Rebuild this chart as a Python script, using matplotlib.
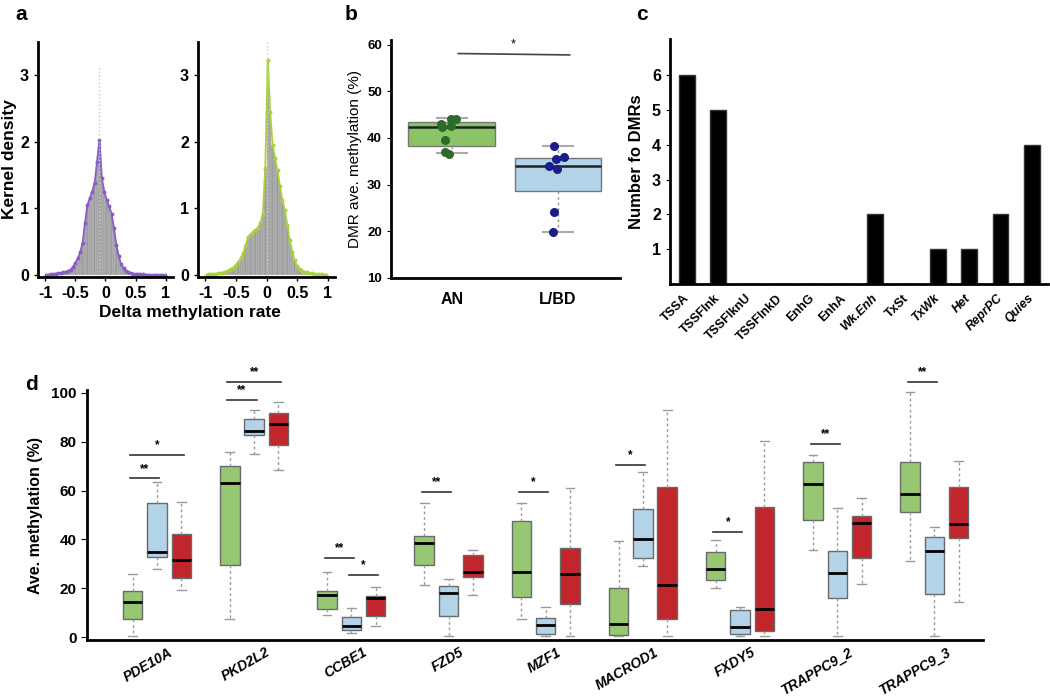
import numpy as np
import matplotlib
matplotlib.use('Agg')
import matplotlib.pyplot as plt

plt.rcParams['font.family'] = ['Liberation Sans', 'DejaVu Sans']

# ---- panel a: delta methylation histograms (bins of 0.04 from -1 to 1)
bin_edges = np.linspace(-1, 1, 51)
dens_left = [0.0, 0.005, 0.01, 0.015, 0.02, 0.025, 0.03, 0.04, 0.05, 0.06,
             0.08, 0.12, 0.18, 0.25, 0.34, 0.48, 0.78, 1.05, 1.15, 1.25,
             1.38, 1.70, 2.03, 1.45, 1.25, 1.12, 1.03, 0.92, 0.70, 0.45,
             0.28, 0.16, 0.10, 0.06, 0.04, 0.03, 0.02, 0.015, 0.01, 0.01,
             0.01, 0.005, 0.005, 0.0, 0.0, 0.0, 0.0, 0.0, 0.0, 0.0]
dens_right = [0.005, 0.01, 0.01, 0.015, 0.02, 0.025, 0.03, 0.04, 0.05, 0.07,
              0.09, 0.11, 0.15, 0.19, 0.25, 0.33, 0.45, 0.57, 0.61, 0.64,
              0.67, 0.71, 0.78, 0.92, 1.60, 3.22, 2.45, 1.95, 1.75, 1.57,
              1.33, 1.12, 0.97, 0.75, 0.52, 0.35, 0.22, 0.13, 0.09, 0.06,
              0.05, 0.04, 0.03, 0.025, 0.02, 0.015, 0.01, 0.01, 0.005, 0.005]
peak_left = -0.10
peak_right = 0.0

# ---- panel b: DMR average methylation
b_groups = ['AN', 'L/BD']
b_an_points = [44.1, 44.1, 42.9, 42.3, 42.5, 39.6, 36.9, 36.6]
b_lbd_points = [38.3, 35.9, 35.4, 34.0, 33.3, 24.2, 19.8]
b_an_jitter = [-0.01, 0.04, -0.10, -0.09, -0.01, -0.07, -0.07, -0.03]
b_lbd_jitter = [-0.04, 0.06, -0.02, -0.08, -0.01, -0.04, -0.05]
# whislo, q1, med, q3, whishi
b_stats = [[36.8, 38.3, 42.3, 43.5, 44.2],
           [19.8, 28.7, 34.0, 35.7, 38.3]]
b_sig_y = 58.1

# ---- panel c: chromatin states
states = ['TSSA', 'TSSFlnk', 'TSSFlknU', 'TSSFlnkD', 'EnhG', 'EnhA', 'Wk.Enh',
          'TxSt', 'TxWk', 'Het', 'ReprPC', 'Quies']
state_counts = [6, 5, 0, 0, 0, 0, 2, 0, 1, 1, 2, 4]
italic_states = ['Wk.Enh', 'TxWk', 'Het', 'ReprPC', 'Quies']

# ---- panel d: per gene methylation (whislo, q1, med, q3, whishi)
genes = ['PDE10A', 'PKD2L2', 'CCBE1', 'FZD5', 'MZF1', 'MACROD1', 'FXDY5',
         'TRAPPC9_2', 'TRAPPC9_3']
green_stats = [[0.3, 7.4, 14.4, 18.8, 25.7],
               [7.4, 29.7, 63.3, 70.1, 75.8],
               [9.2, 11.4, 17.1, 19.0, 26.8],
               [21.2, 29.6, 38.5, 41.4, 55.0],
               [7.4, 16.4, 26.8, 47.7, 55.0],
               [0.5, 1.0, 5.3, 20.3, 39.2],
               [19.9, 23.2, 27.9, 34.7, 39.6],
               [35.8, 47.8, 62.9, 71.8, 74.4],
               [31.0, 51.2, 58.4, 71.6, 100.5]]
blue_stats = [[28.0, 32.9, 34.9, 54.9, 63.4],
              [75.0, 82.7, 84.5, 89.3, 93.0],
              [1.5, 3.0, 4.4, 8.1, 11.9],
              [0.3, 8.6, 17.9, 20.8, 23.7],
              [0.5, 1.2, 4.8, 7.9, 12.5],
              [29.2, 32.3, 40.1, 52.5, 67.8],
              [0.5, 1.2, 4.2, 11.0, 12.5],
              [0.5, 15.9, 26.4, 35.2, 52.7],
              [0.5, 17.8, 35.2, 41.1, 44.9]]
red_stats = [[19.2, 24.2, 31.4, 42.3, 55.2],
             [68.5, 78.8, 87.3, 91.9, 96.3],
             [4.4, 8.8, 15.8, 17.0, 20.7],
             [17.4, 24.8, 26.6, 33.6, 35.8],
             [0.5, 13.4, 26.0, 36.4, 61.2],
             [0.5, 7.4, 21.2, 61.6, 93.2],
             [0.5, 2.3, 11.5, 53.2, 80.5],
             [21.9, 32.3, 46.8, 49.6, 57.1],
             [14.4, 40.4, 46.3, 61.4, 72.2]]
# (gene, from box, to box, height, label); boxes 0=green 1=blue 2=red
sig_marks = [(0, 0, 1, 65.0, '**'), (0, 0, 2, 74.5, '*'),
             (1, 0, 1, 97.0, '**'), (1, 0, 2, 104.5, '**'),
             (2, 0, 1, 32.5, '**'), (2, 1, 2, 25.6, '*'),
             (3, 0, 1, 59.3, '**'), (4, 0, 1, 59.5, '*'),
             (5, 0, 1, 70.5, '*'), (6, 0, 1, 43.0, '*'),
             (7, 0, 1, 79.0, '**'), (8, 0, 1, 104.4, '**')]

GREEN = '#98c774'
BLUE = '#b3d3e8'
RED = '#c0262b'

fig = plt.figure(figsize=(10.5, 7), dpi=100)


def px_axes(x0, y0, x1, y1):
    return fig.add_axes([x0 / 1050, 1 - y1 / 700, (x1 - x0) / 1050, (y1 - y0) / 700])


def base_style(ax, lw=2):
    for s in ['top', 'right']:
        ax.spines[s].set_visible(False)
    for s in ['left', 'bottom']:
        ax.spines[s].set_linewidth(lw)
    for lab in ax.get_xticklabels() + ax.get_yticklabels():
        lab.set_fontweight('bold')


def to_stats(rows):
    return [dict(whislo=r[0], q1=r[1], med=r[2], q3=r[3], whishi=r[4], fliers=[]) for r in rows]


# ---------------- panel a
centers = (bin_edges[:-1] + bin_edges[1:]) / 2
for ax, dens, col, peak, top in [(px_axes(38, 41.5, 173, 277), dens_left, '#8a5cc8', peak_left, 3.15),
                                 (px_axes(198, 41.5, 335, 277), dens_right, '#a8d23a', peak_right, 3.5)]:
    ax.bar(centers, dens, width=0.04, color='#9b9b9b', edgecolor='#d8d8d8', linewidth=0.25)
    ax.plot(centers, dens, color=col, lw=1.3, marker='o', ms=1.8)
    ax.plot([peak, peak], [0, top], ls=':', color='#c8c8c8', lw=1)
    ax.set_xlim(-1.12, 1.12)
    ax.set_ylim(-0.03, 3.5)
    ax.set_xticks([-1, -0.5, 0, 0.5, 1])
    ax.set_xticklabels(['-1', '-0.5', '0', '0.5', '1'])
    ax.set_yticks([0, 1, 2, 3])
    ax.tick_params(labelsize=11.5, length=3, width=1)
    base_style(ax)
    if col == '#8a5cc8':
        ax.set_ylabel('Kernel density', fontsize=12.5, fontweight='bold', labelpad=2)
fig.text(190 / 1050, 1 - 313 / 700, 'Delta methylation rate', ha='center', va='center',
         fontsize=12.5, fontweight='bold')

# ---------------- panel b
axb = px_axes(391, 40, 620, 278)
b_colors = [('#8ac467', '#2e6b2a'), (BLUE, '#1c1c8a')]
for i, (st, cols) in enumerate(zip(to_stats(b_stats), b_colors)):
    axb.bxp([st], positions=[i + 1], widths=0.82, patch_artist=True, showfliers=False,
            boxprops=dict(facecolor=cols[0], edgecolor='#777777', linewidth=1),
            medianprops=dict(color='#222222', linewidth=1.8),
            whiskerprops=dict(color='#999999', linestyle=(0, (2, 2)), linewidth=1),
            capprops=dict(color='#aaaaaa', linewidth=1.5), capwidths=0.28)
axb.scatter([1 + j for j in b_an_jitter], b_an_points, s=30, color='#2e6b2a', zorder=3)
axb.scatter([2 + j for j in b_lbd_jitter], b_lbd_points, s=30, color='#1c1c8a', zorder=3)
axb.plot([1.06, 2.11], [b_sig_y, b_sig_y - 0.3], color='#444444', lw=1.2)
axb.text(1.58, b_sig_y + 0.6, '*', ha='center', va='bottom', fontsize=9)
axb.set_xlim(0.425, 2.585)
axb.set_ylim(10, 61)
axb.set_yticks([10, 20, 30, 40, 50, 60])
axb.set_xticks([1, 2])
axb.set_xticklabels(b_groups)
axb.tick_params(axis='y', labelsize=9.5, length=3)
axb.tick_params(axis='x', labelsize=11.5, length=0, pad=10)
axb.set_ylabel('DMR ave. methylation (%)', fontsize=11, labelpad=4)
base_style(axb)

# ---------------- panel c
axc = px_axes(670, 39, 1048, 284)
xs = np.arange(len(states))
axc.bar(xs, state_counts, width=0.5, color='black', edgecolor='#333333')
axc.set_xlim(-0.54, 11.51)
axc.set_ylim(0, 7.05)
axc.set_yticks([1, 2, 3, 4, 5, 6])
axc.set_xticks(xs)
axc.set_xticklabels(states, rotation=45, ha='right', va='center', rotation_mode='anchor')
axc.tick_params(axis='y', labelsize=11.5, length=3)
axc.tick_params(axis='x', labelsize=9, length=0, pad=9)
axc.set_ylabel('Number fo DMRs', fontsize=12, fontweight='bold', labelpad=6)
base_style(axc)
for lab in axc.get_xticklabels():
    if lab.get_text() in italic_states:
        lab.set_fontstyle('italic')

# ---------------- panel d
axd = px_axes(87, 390, 983, 640)
gpos = np.arange(len(genes)) * 4
for k, (rows, col) in enumerate([(green_stats, GREEN), (blue_stats, BLUE), (red_stats, RED)]):
    axd.bxp(to_stats(rows), positions=gpos + k - 1, widths=0.8, patch_artist=True,
            showfliers=False,
            boxprops=dict(facecolor=col, edgecolor='#6a6a6a', linewidth=1),
            medianprops=dict(color='black', linewidth=2),
            whiskerprops=dict(color='#9a9a9a', linestyle=(0, (2, 2)), linewidth=1),
            capprops=dict(color='#9a9a9a', linewidth=1), capwidths=0.36)
for g, a, b, y, lab in sig_marks:
    x0 = gpos[g] + a - 1
    x1 = gpos[g] + b - 1
    axd.plot([x0 - 0.1, x1 + 0.1], [y, y], color='#333333', lw=1.2, clip_on=False)
    axd.text((x0 + x1) / 2, y + 1.5, lab, ha='center', va='bottom', fontsize=8.5,
             fontweight='bold')
axd.set_xlim(-2.88, 34.0)
axd.set_ylim(-1.2, 101.2)
axd.set_yticks([0, 20, 40, 60, 80, 100])
axd.set_xticks(gpos + 0.6)
axd.set_xticklabels(genes, rotation=30, ha='right', va='center', rotation_mode='anchor')
axd.tick_params(axis='y', labelsize=11, length=4)
axd.tick_params(axis='x', labelsize=10, length=0, pad=8)
axd.set_ylabel('Ave. methylation (%)', fontsize=11.5, fontweight='bold', labelpad=6)
base_style(axd)
for lab in axd.get_xticklabels():
    lab.set_fontstyle('italic')

# panel letters
for letter, x, y in [('a', 15, 14), ('b', 345, 14), ('c', 636, 14), ('d', 25, 384)]:
    fig.text(x / 1050, 1 - y / 700, letter, ha='left', va='center', fontsize=15,
             fontweight='bold')

fig.savefig('out.png', dpi=100)
